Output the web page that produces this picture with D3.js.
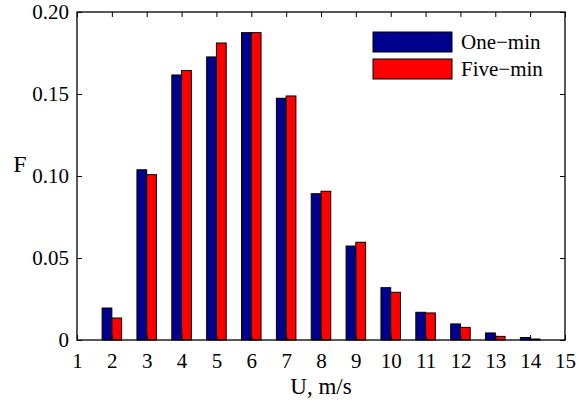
<!DOCTYPE html>
<html>
<head>
<meta charset="utf-8">
<script src="https://cdn.jsdelivr.net/npm/d3@7"></script>
<style>
  html, body { margin: 0; padding: 0; background: #fff; }
  svg { display: block; }
</style>
</head>
<body>
<svg id="chart" width="579" height="405"></svg>
<script>
// Wind speed bins (m/s) and relative frequency for the two averaging intervals
const speeds = [2, 3, 4, 5, 6, 7, 8, 9, 10, 11, 12, 13, 14];
const oneMin = [0.0195, 0.1038, 0.1616, 0.1726, 0.1874, 0.1474, 0.0892, 0.0573, 0.0319, 0.0169, 0.0098, 0.0043, 0.0015];
const fiveMin = [0.0134, 0.1008, 0.1643, 0.1811, 0.1874, 0.1488, 0.0907, 0.0596, 0.0291, 0.0165, 0.0077, 0.0022, 0.0006];
const seriesNames = ["One\u2212min", "Five\u2212min"];
const seriesColors = ["#00008F", "#FF0000"];
const xTicks = d3.range(1, 16);
const yTicks = [0, 0.05, 0.10, 0.15, 0.20];
const yTickLabels = ["0", "0.05", "0.10", "0.15", "0.20"];

const serif = "'Liberation Serif', 'Times New Roman', Times, serif";
const svg = d3.select("#chart");
const plotL = 77, plotR = 565, plotT = 12, plotB = 340;

const x = d3.scaleLinear().domain([1, 15]).range([plotL, plotR]);
const y = d3.scaleLinear().domain([0, 0.20]).range([plotB, plotT]);
const barW = 0.28; // width of one bar in x units

const series = [oneMin, fiveMin];
const g = svg.append("g");
series.forEach((vals, si) => {
  g.selectAll(null)
    .data(speeds.map((s, i) => ({ s, v: vals[i] })))
    .join("rect")
    .attr("x", d => x(d.s + (si === 0 ? -barW : 0)))
    .attr("width", x(1 + barW) - x(1))
    .attr("y", d => y(d.v))
    .attr("height", d => y(0) - y(d.v))
    .attr("fill", seriesColors[si])
    .attr("stroke", "#000")
    .attr("stroke-width", 1);
});

// Axes with inward ticks on all four sides
const tickLen = 5;
const axisStyle = sel => {
  sel.select(".domain").remove();
  sel.selectAll("line").attr("stroke", "#000").attr("stroke-width", 1);
  sel.selectAll("text").style("font-family", serif).style("font-size", "21px").attr("fill", "#000");
};
svg.append("g").attr("transform", `translate(0,${plotB})`)
  .call(d3.axisBottom(x).tickValues(xTicks).tickFormat(d3.format("d")).tickSizeInner(-tickLen).tickSizeOuter(0).tickPadding(13))
  .call(axisStyle);
svg.append("g").attr("transform", `translate(0,${plotT})`)
  .call(d3.axisTop(x).tickValues(xTicks).tickFormat("").tickSizeInner(-tickLen).tickSizeOuter(0))
  .call(axisStyle);
svg.append("g").attr("transform", `translate(${plotL},0)`)
  .call(d3.axisLeft(y).tickValues(yTicks).tickFormat((d, i) => yTickLabels[i]).tickSizeInner(-tickLen).tickSizeOuter(0).tickPadding(8))
  .call(axisStyle);
svg.append("g").attr("transform", `translate(${plotR},0)`)
  .call(d3.axisRight(y).tickValues(yTicks).tickFormat("").tickSizeInner(-tickLen).tickSizeOuter(0))
  .call(axisStyle);

// Frame
svg.append("rect")
  .attr("x", plotL).attr("y", plotT)
  .attr("width", plotR - plotL).attr("height", plotB - plotT)
  .attr("fill", "none").attr("stroke", "#000").attr("stroke-width", 1.3);

// Axis titles
svg.append("text").attr("x", (plotL + plotR) / 2).attr("y", 394)
  .attr("text-anchor", "middle").style("font-family", serif).style("font-size", "23px").text("U, m/s");
svg.append("text").attr("x", 20).attr("y", 172)
  .attr("text-anchor", "middle").style("font-family", serif).style("font-size", "24px").text("F");

// Legend
const legend = svg.append("g");
seriesNames.forEach((name, i) => {
  const ly = 32 + i * 27;
  legend.append("rect").attr("x", 373).attr("y", ly).attr("width", 79).attr("height", 20)
    .attr("fill", seriesColors[i]).attr("stroke", "#000").attr("stroke-width", 1);
  legend.append("text").attr("x", 461).attr("y", ly + 10).attr("dy", "0.35em")
    .style("font-family", serif).style("font-size", "21px").text(name);
});
</script>
</body>
</html>
